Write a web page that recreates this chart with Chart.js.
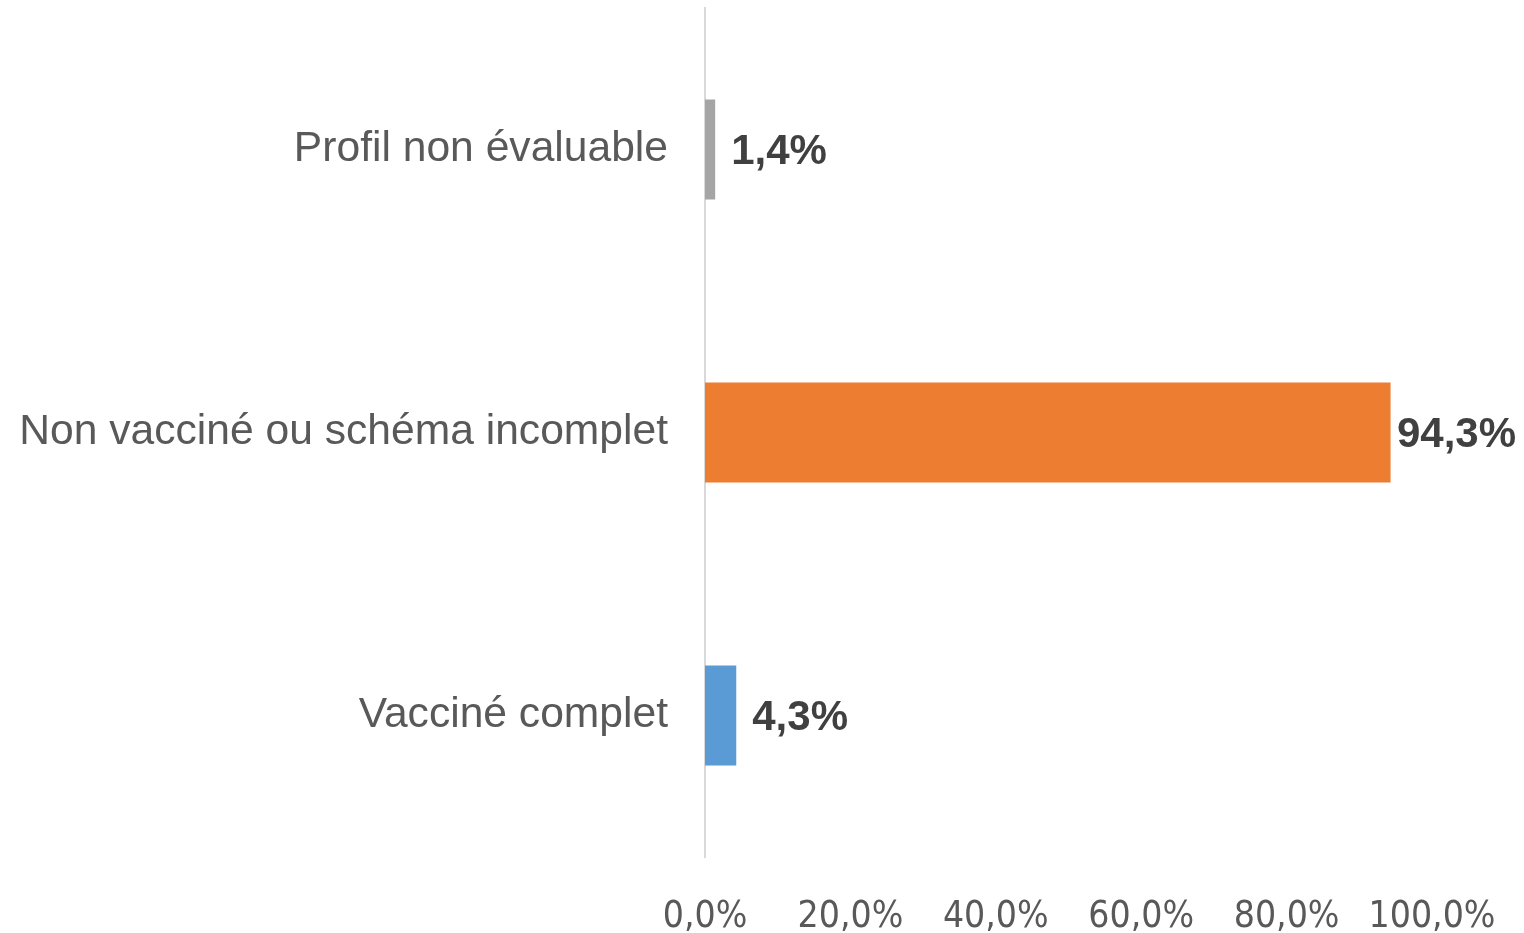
<!DOCTYPE html>
<html><head><meta charset="utf-8">
<script src="https://cdn.jsdelivr.net/npm/chart.js@4.4.1/dist/chart.umd.min.js"></script>
<style>html,body{margin:0;padding:0;background:#fff}#wrap{width:1524px;height:933px}</style>
</head><body><div id="wrap"><canvas id="c" width="1524" height="933"></canvas></div>
<script>
const categories = ["Profil non évaluable", "Non vacciné ou schéma incomplet", "Vacciné complet"];
const values = [1.4, 94.3, 4.3];
const barColors = ["#a5a5a5", "#ed7d31", "#5b9bd5"];
const tickValues = [0, 20, 40, 60, 80, 100];

const fmt = v => v.toFixed(1).replace('.', ',') + '%';

const labelPlugin = {
  id: 'barLabels',
  afterDatasetsDraw(chart) {
    const ctx = chart.ctx;
    const meta = chart.getDatasetMeta(0);
    ctx.save();
    ctx.font = 'bold 42px "Liberation Sans", Arial, sans-serif';
    ctx.fillStyle = '#404040';
    ctx.textBaseline = 'middle';
    ctx.textAlign = 'left';
    meta.data.forEach((bar, i) => {
      const t = fmt(values[i]);
      const w = ctx.measureText(t).width;
      let x = bar.x + 16;
      x = Math.min(x, chart.width - 8 - w);
      ctx.fillText(t, x, bar.y + 3);
    });
    ctx.restore();
  }
};

new Chart(document.getElementById('c'), {
  type: 'bar',
  data: {
    labels: categories,
    datasets: [{ data: values, backgroundColor: barColors, borderWidth: 0,
      barPercentage: 0.7067, categoryPercentage: 0.5 }]
  },
  options: {
    indexAxis: 'y',
    responsive: false,
    animation: false,
    layout: { padding: { top: 8, right: 92, left: 0, bottom: 0 } },
    plugins: { legend: { display: false }, tooltip: { enabled: false } },
    scales: {
      x: {
        min: 0, max: 100,
        afterFit(s) { s.height = 76; s.paddingLeft = 0; s.paddingRight = 0; },
        afterBuildTicks(s) { s.ticks = tickValues.map(v => ({ value: v })); },
        grid: { display: false },
        border: { display: false },
        ticks: { callback: v => fmt(v), color: '#595959', padding: 30, maxRotation: 0,
          font: { family: '"Liberation Sans Narrow", "DejaVu Sans Condensed", sans-serif', size: 37 } }
      },
      y: {
        afterFit(s) { s.width = 705; s.paddingTop = 0; s.paddingBottom = 0; },
        grid: { display: false },
        border: { display: true, color: '#d9d9d9', width: 2 },
        ticks: { color: '#595959', padding: 29,
          font: { family: '"Liberation Sans", Arial, sans-serif', size: 42.6 } }
      }
    }
  },
  plugins: [labelPlugin]
});
</script></body></html>
